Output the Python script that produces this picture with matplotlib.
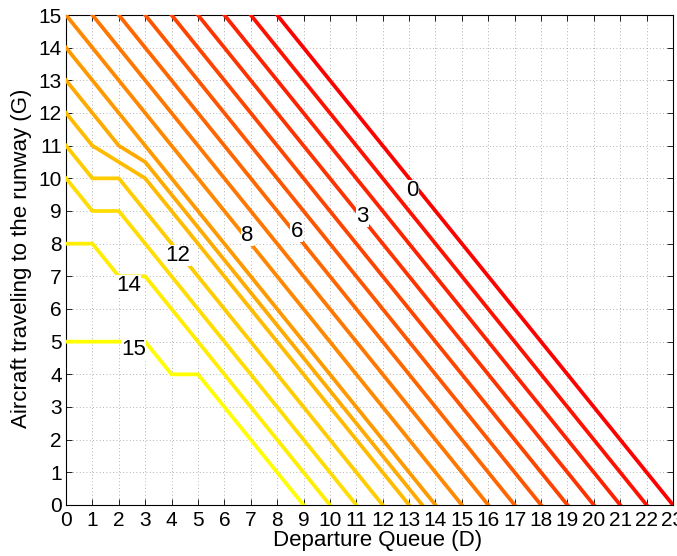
import matplotlib
matplotlib.use("Agg")
import matplotlib.pyplot as plt
import numpy as np

plt.rcParams['font.family'] = ['Liberation Sans', 'DejaVu Sans']

# contour levels (0 = red ... 15 = yellow)
levels = [0, 1, 2, 3, 4, 5, 6, 7, 8, 9, 10, 11, 12, 13, 14, 15]

# vertices of each contour line: Departure Queue (D) and Aircraft traveling (G)
line_D = [
    [8, 23], [7, 22], [6, 21], [5, 20], [4, 19], [3, 18], [2, 17], [1, 16], [0, 15],
    [0, 14],
    [0, 2, 3, 13.5],
    [0, 1, 2, 3, 13],
    [0, 1, 2, 12],
    [0, 1, 2, 11],
    [0, 1, 2, 3, 10],
    [0, 3, 4, 5, 9],
]
line_G = [
    [15, 0], [15, 0], [15, 0], [15, 0], [15, 0], [15, 0], [15, 0], [15, 0], [15, 0],
    [14, 0],
    [13, 11, 10.5, 0],
    [12, 11, 10.5, 10, 0],
    [11, 10, 10, 0],
    [10, 9, 9, 0],
    [8, 8, 7, 7, 0],
    [5, 5, 4, 4, 0],
]

# contour labels
label_text = ["0", "3", "6", "8", "12", "14", "15"]
label_D = [13.13, 11.24, 8.74, 6.88, 4.25, 2.36, 2.55]
label_G = [9.64, 8.83, 8.37, 8.26, 7.65, 6.73, 4.77]

x_ticks = list(range(0, 24))
y_ticks = list(range(0, 16))

fig = plt.figure(figsize=(6.77, 5.56), dpi=100)
ax = fig.add_axes([66 / 677, 1 - 505 / 556, (673 - 66) / 677, (505 - 15) / 556])

for lev, xs, ys in zip(levels, line_D, line_G):
    col = (1.0, lev / 15.0, 0.0)
    ax.plot(xs, ys, color=col, lw=2.7, solid_joinstyle='miter', zorder=3)

for t, x, y in zip(label_text, label_D, label_G):
    ax.text(x, y, t, ha='center', va='center', fontsize=16, color='black', zorder=5,
            bbox=dict(boxstyle='square,pad=0.0', fc='white', ec='none'))

ax.set_xlim(0, 23)
ax.set_ylim(0, 15)
ax.set_xticks(x_ticks)
ax.set_yticks(y_ticks)
ax.set_xticklabels([str(v) for v in x_ticks])
ax.set_yticklabels([str(v) for v in y_ticks])
ax.tick_params(direction='in', top=True, right=True, length=4, width=0.6,
               labelsize=15)
ax.tick_params(axis='x', pad=4.5)
ax.tick_params(axis='y', pad=3)
ax.grid(True, linestyle=(0, (1, 3)), color='#999999', linewidth=0.6)
ax.set_axisbelow(True)
for s in ax.spines.values():
    s.set_linewidth(0.8)

ax.set_xlabel("Departure Queue (D)", fontsize=16)
ax.set_ylabel("Aircraft traveling to the runway (G)", fontsize=16)
ax.xaxis.set_label_coords(0.513, -0.052)
ax.yaxis.set_label_coords(-0.056, 0.503)

fig.savefig("out.png", dpi=100)
